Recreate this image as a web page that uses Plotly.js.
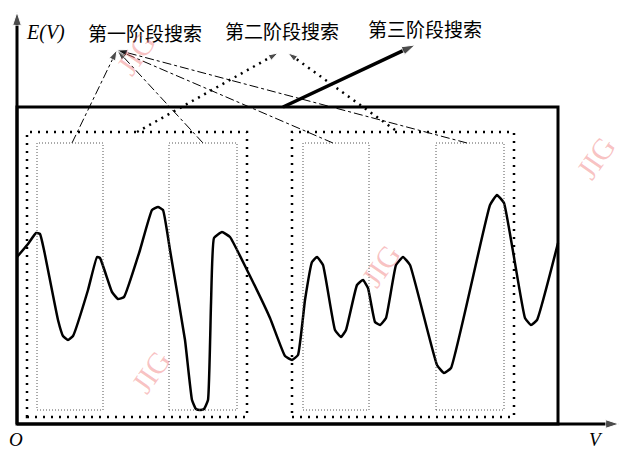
<!DOCTYPE html>
<html><head><meta charset="utf-8">
<script src="https://cdn.plot.ly/plotly-3.0.1.min.js"></script>
<style>html,body{margin:0;padding:0;background:#fff}</style>
</head><body><div id="chart" style="width:622px;height:452px"></div>
<script>
// Energy curve E(V) sampled along V (diagram units)
const curveV = [0,11,19,23,27,41,46,51,56,71,80,83,95,101,107,123,135,141,146,153,168,175,179,183,187,191,194,197,205,213,230,253,268,275,281,288,295,300,306,318,324,329,340,346,351,358,363,369,379,386,393,420,427,434,473,480,487,508,514,520,541];
const curveE = [167,180,191,190,174,104,88,84,88,134,167,166,132,125,127,174,214,217,214,174,84,24,15,14,15,24,120,186,192,187,154,106,68,64,69,124,162,167,159,94,87,94,139,144,136,102,99,106,159,167,159,59,51,56,219,229,221,106,99,104,181];

// Search regions
const stage1Boxes = [[20,86],[152,220],[286,352],[419,487]]; // V ranges
const stage1Range = [14,281];                                 // E range
const stage2Boxes = [[10,230],[275,497]];
const stage2Range = [7,292];
const domainBox = {v:[0,541], e:[0,317]};

// Search flow arrows [fromV, fromE, toV, toE]
const stage1Arrows = [[55,281,100,374],[186,281,100,374],[316,281,100,374],[450,281,100,374]];
const stage2Arrows = [[120,292,261,371],[378,294,271,371]];
const stage3Arrow = [266,317,398,379];

const labels = ["E(V)","第一阶段搜索","第二阶段搜索","第三阶段搜索"];
const labelPos = [[28,392],[128,392],[265,394],[408,396]];

const traces = [];
function arrowTrace(a, dash, width, size){
  return {x:[a[0],a[2]], y:[a[1],a[3]], mode:'lines+markers', type:'scatter',
    line:{color:'#000', width:width, dash:dash},
    marker:{symbol:'arrow', size:[0,size], angleref:'previous', color:'#000'},
    hoverinfo:'skip', showlegend:false, cliponaxis:false};
}
// axes
traces.push(arrowTrace([0,0,0,412],'solid',3,14));
traces.push(arrowTrace([0,0,602,0],'solid',3,14));
traces.push({x:curveV, y:curveE, type:'scatter', mode:'lines',
  line:{color:'#000', width:2.5, shape:'spline', smoothing:0.35}, showlegend:false, hoverinfo:'skip'});
stage1Arrows.forEach(a=>traces.push(arrowTrace(a,'dashdot',1,11)));
stage2Arrows.forEach(a=>traces.push(arrowTrace(a,'2px,5px',2.5,10)));
traces.push(arrowTrace(stage3Arrow,'solid',3.5,14));

const shapes = [];
shapes.push({type:'rect', xref:'x', yref:'y', x0:domainBox.v[0], x1:domainBox.v[1], y0:domainBox.e[0], y1:domainBox.e[1], line:{color:'#000', width:3}});
stage2Boxes.forEach(b=>shapes.push({type:'rect', xref:'x', yref:'y', x0:b[0], x1:b[1], y0:stage2Range[0], y1:stage2Range[1], line:{color:'#000', width:2.5, dash:'2px,6px'}}));
stage1Boxes.forEach(b=>shapes.push({type:'rect', xref:'x', yref:'y', x0:b[0], x1:b[1], y0:stage1Range[0], y1:stage1Range[1], line:{color:'#555', width:1, dash:'1px,2px'}}));

const annotations = [];
labels.forEach((t,i)=>annotations.push({x:labelPos[i][0], y:labelPos[i][1], xref:'x', yref:'y', showarrow:false,
  text: i===0 ? '<i>'+t+'</i>' : t,
  font: i===0 ? {family:'Liberation Serif, serif', size:20, color:'#000'} : {family:'Noto Sans CJK SC', size:19, color:'#000'}}));
annotations.push({x:-10, y:-15, xref:'x', yref:'y', xanchor:'left', showarrow:false, text:'<i>O</i>', font:{family:'Liberation Serif, serif', size:19, color:'#000'}});
annotations.push({x:579, y:-15, xref:'x', yref:'y', showarrow:false, text:'<i>V</i>', font:{family:'Liberation Serif, serif', size:19, color:'#000'}});
// watermarks
[[118,370],[133,52],[363,158],[578,266]].forEach(p=>annotations.push({x:p[0], y:p[1], xref:'x', yref:'y', showarrow:false, text:'JIG', textangle:-55,
  font:{family:'Liberation Serif, serif', size:30, color:'rgba(240,120,120,0.45)'}}));

Plotly.newPlot('chart', traces, {
  width:622, height:452, margin:{l:0,r:0,t:0,b:0},
  paper_bgcolor:'#fff', plot_bgcolor:'#fff',
  xaxis:{range:[-17,605], visible:false, fixedrange:true},
  yaxis:{range:[-28,424], visible:false, fixedrange:true},
  shapes:shapes, annotations:annotations, showlegend:false
}, {staticPlot:true});
</script></body></html>
